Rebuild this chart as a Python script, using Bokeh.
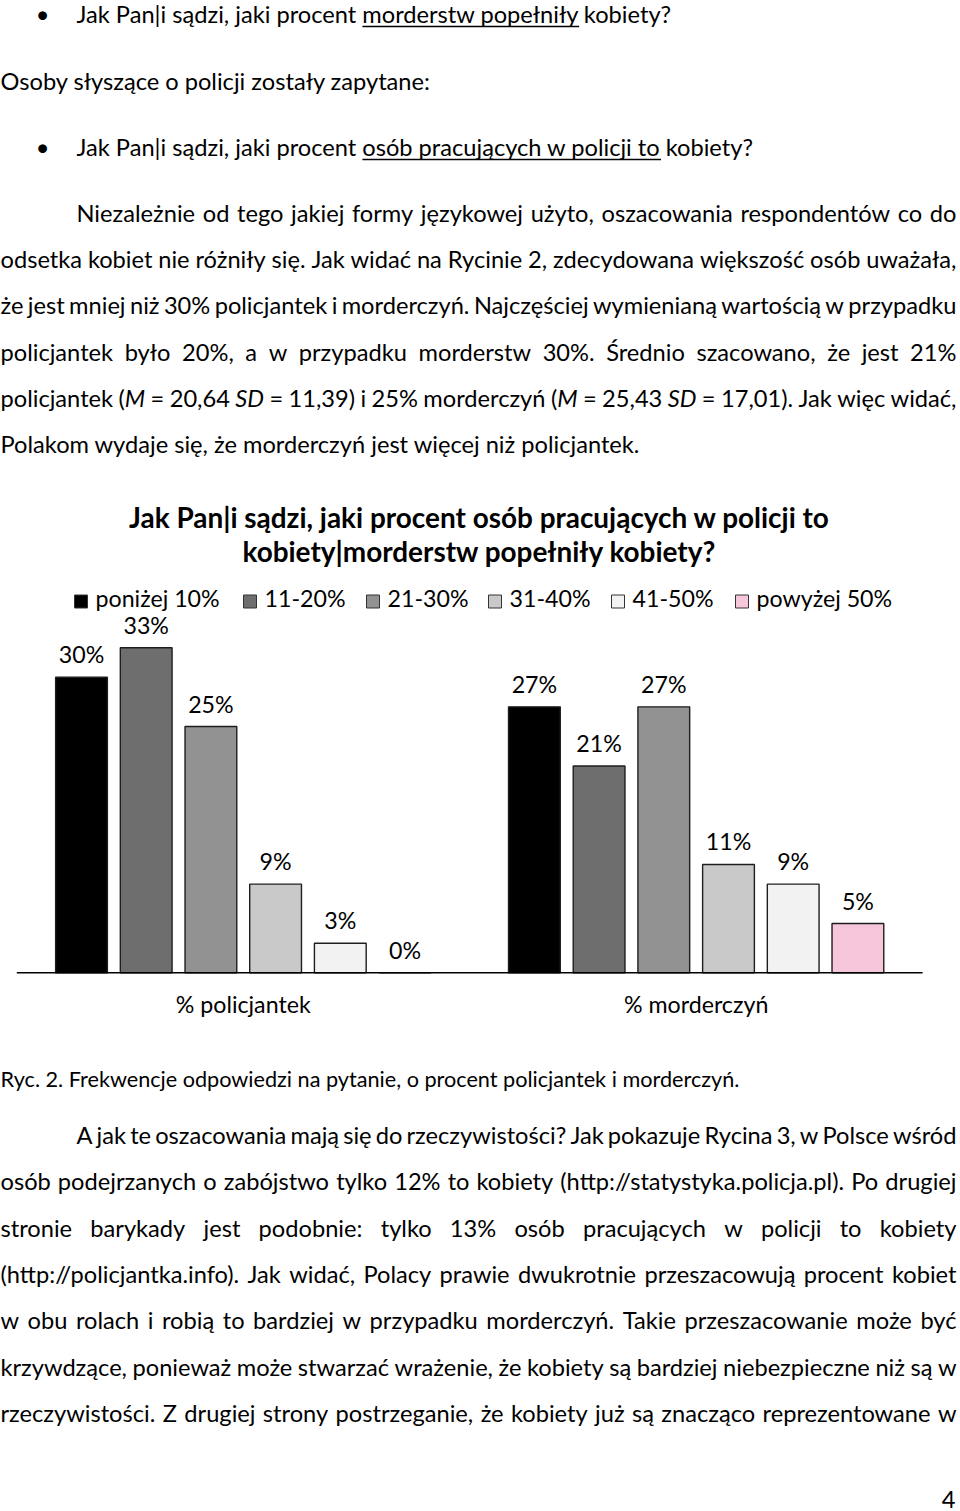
import glob
import os
import subprocess

from bokeh.core.properties import value
from bokeh.embed import file_html
from bokeh.models import ColumnDataSource, LabelSet, Range1d
from bokeh.plotting import figure
from bokeh.resources import INLINE

# ---------------- data ----------------
groups = ["% policjantek", "% morderczyń"]
bins = ["poniżej 10%", "11-20%", "21-30%", "31-40%", "41-50%", "powyżej 50%"]
policjantek = [30, 33, 25, 9, 3, 0]
morderczyn = [27, 21, 27, 11, 9, 5]
bin_colors = ["#000000", "#6e6e6e", "#929292", "#c9c9c9", "#f2f2f2", "#f6c6da"]

title_lines = ["Jak Pan|i sądzi, jaki procent osób pracujących w policji to",
               "kobiety|morderstw popełniły kobiety?"]

top_lines = [
    ("bullet", 22.0, "Jak Pan|i sądzi, jaki procent _morderstw popełniły_ kobiety?"),
    ("left", 89.3, "Osoby słyszące o policji zostały zapytane:"),
    ("bullet", 155.0, "Jak Pan|i sądzi, jaki procent _osób pracujących w policji to_ kobiety?"),
]
para1 = [
    "Niezależnie od tego jakiej formy językowej użyto, oszacowania respondentów co do",
    "odsetka kobiet nie różniły się. Jak widać na Rycinie 2, zdecydowana większość osób uważała,",
    "że jest mniej niż 30% policjantek i morderczyń. Najczęściej wymienianą wartością w przypadku",
    "policjantek było 20%, a w przypadku morderstw 30%. Średnio szacowano, że jest 21%",
    "policjantek (*M* = 20,64 *SD* = 11,39) i 25% morderczyń (*M* = 25,43 *SD* = 17,01). Jak więc widać,",
    "Polakom wydaje się, że morderczyń jest więcej niż policjantek.",
]
caption = "Ryc. 2. Frekwencje odpowiedzi na pytanie, o procent policjantek i morderczyń."
para2 = [
    "A jak te oszacowania mają się do rzeczywistości? Jak pokazuje Rycina 3, w Polsce wśród",
    "osób podejrzanych o zabójstwo tylko 12% to kobiety (http://statystyka.policja.pl). Po drugiej",
    "stronie barykady jest podobnie: tylko 13% osób pracujących w policji to kobiety",
    "(http://policjantka.info). Jak widać, Polacy prawie dwukrotnie przeszacowują procent kobiet",
    "w obu rolach i robią to bardziej w przypadku morderczyń. Takie przeszacowanie może być",
    "krzywdzące, ponieważ może stwarzać wrażenie, że kobiety są bardziej niebezpieczne niż są w",
    "rzeczywistości. Z drugiej strony postrzeganie, że kobiety już są znacząco reprezentowane w",
]
page_number = "4"

# ---------------- page geometry (page pixels) ----------------
W, H = 960, 1511
FONT = "Lato"

# ---------------- font measuring ----------------
try:
    from PIL import ImageFont
except Exception:  # pragma: no cover
    ImageFont = None


def find_font(fname, fcname):
    roots = ["/usr/share/fonts", "/usr/local/share/fonts",
             os.path.expanduser("~/.fonts"), os.path.expanduser("~/.local/share/fonts")]
    for r in roots:
        hits = glob.glob(os.path.join(r, "**", fname), recursive=True)
        if hits:
            return sorted(hits)[0]
    try:
        out = subprocess.run(["fc-match", "-f", "%{file}", fcname],
                             capture_output=True, text=True, timeout=5).stdout.strip()
        if out and os.path.exists(out) and "lato" in out.lower():
            return out
    except Exception:
        pass
    return None


FONT_FILES = {"normal": find_font("Lato-Regular.ttf", "Lato:style=Regular"),
              "italic": find_font("Lato-Italic.ttf", "Lato:style=Italic"),
              "bold": find_font("Lato-Bold.ttf", "Lato:style=Bold")}
_fcache = {}
MEASURE_OK = ImageFont is not None and FONT_FILES["normal"] is not None


def measure(text, style, size):
    path = FONT_FILES.get(style) or FONT_FILES.get("normal")
    if ImageFont is not None and path:
        if path not in _fcache:
            _fcache[path] = ImageFont.truetype(path, 200)
        return _fcache[path].getlength(text) * size / 200.0
    return len(text) * size * (0.53 if style == "bold" else 0.49)


def fit_size(samples, style):
    r = sorted(w / measure(t, style, 1.0) for t, w in samples)
    return r[len(r) // 2]


body_size = fit_size([
    ("Osoby słyszące o policji zostały zapytane:", 422.5),
    ("Polakom wydaje się, że morderczyń jest więcej niż policjantek.", 637),
    ("Jak Pan|i sądzi, jaki procent morderstw popełniły kobiety?", 671 - 76),
    ("Jak Pan|i sądzi, jaki procent osób pracujących w policji to kobiety?", 754.5 - 76),
], "normal")
caption_size = fit_size([(caption, 739)], "normal")
chart_size = fit_size([
    ("% policjantek", 135), ("% morderczyń", 145),
    ("poniżej 10%", 121), ("powyżej 50%", 138), ("31-40%", 76),
], "normal")
title_size = fit_size([(title_lines[0], 698), (title_lines[1], 473)], "bold")

# ---------------- text layout ----------------
labels = {}      # (style, size, align) -> dict(x, y, text)
underlines = {"x0": [], "x1": [], "y": []}


def add_label(x, y, text, style, size, align="left"):
    key = (style, round(size, 2), align)
    d = labels.setdefault(key, {"x": [], "y": [], "text": []})
    d["x"].append(x)
    d["y"].append(y)
    d["text"].append(text)


def close_ul(x0, x1, base):
    underlines["x0"].append(x0)
    underlines["x1"].append(x1)
    underlines["y"].append(base + 4)


def layout_line(markup, x0, x1, base, size, justify):
    italic = False
    under = False
    words = []
    space_under = []
    for w in markup.split(" "):
        segs, cur = [], ""
        for ch in w:
            if ch in "*_":
                if cur:
                    segs.append((cur, italic, under))
                    cur = ""
                if ch == "*":
                    italic = not italic
                else:
                    under = not under
            else:
                cur += ch
        if cur:
            segs.append((cur, italic, under))
        words.append(segs)
        space_under.append(under)
    widths = [sum(measure(t, "italic" if it else "normal", size) for t, it, _ in segs) for segs in words]
    space = measure(" ", "normal", size)
    if justify and len(words) > 1:
        gap = (x1 - x0 - sum(widths)) / (len(words) - 1)
    else:
        gap = space
    x = x0
    placed = []
    ul_start = None
    for i, segs in enumerate(words):
        for t, it, un in segs:
            wseg = measure(t, "italic" if it else "normal", size)
            placed.append([x, t, "italic" if it else "normal", i])
            if un and ul_start is None:
                ul_start = x
            if not un and ul_start is not None:
                close_ul(ul_start, x, base)
                ul_start = None
            x += wseg
        if i < len(words) - 1:
            if ul_start is not None and not space_under[i]:
                close_ul(ul_start, x, base)
                ul_start = None
            x += gap
    if ul_start is not None:
        close_ul(ul_start, x, base)
    if justify:
        for px, t, st, _ in placed:
            add_label(px, base, t, st, size)
    else:
        runs = []
        for px, t, st, wi in placed:
            if runs and runs[-1][2] == st:
                sep = " " if wi != runs[-1][3] else ""
                runs[-1][1] += sep + t
                runs[-1][3] = wi
            else:
                runs.append([px, t, st, wi])
        for px, t, st, _ in runs:
            add_label(px, base, t, st, size)


LEFT, INDENT, RIGHT = 0.0, 76.0, 956.0

for kind, base, text in top_lines:
    if kind == "bullet":
        add_label(42, base, "•", "normal", body_size, "center")
        layout_line(text, INDENT, RIGHT, base, body_size, False)
    else:
        layout_line(text, LEFT, RIGHT, base, body_size, False)

for i, line in enumerate(para1):
    base = 221.7 + 46.1 * i
    layout_line(line, INDENT if i == 0 else LEFT, RIGHT, base, body_size, i < len(para1) - 1)

layout_line(caption, LEFT, RIGHT, 1086.7, caption_size, False)

for i, line in enumerate(para2):
    base = 1143.3 + 46.4 * i
    layout_line(line, INDENT if i == 0 else LEFT, RIGHT, base, body_size, True)

add_label(955, 1507, page_number, "normal", body_size, "right")

# chart title
add_label(479, 527.3, title_lines[0], "bold", title_size, "center")
add_label(479, 561.0, title_lines[1], "bold", title_size, "center")

# legend labels
legend_left_ref = [74, 243, 366, 488, 611, 735]
for xl, b in zip(legend_left_ref, bins):
    add_label(xl + 21, 606.7, b, "normal", chart_size)

if not MEASURE_OK:
    add_label(10, 1490, "FONTFALLBACK", "normal", 10)

# ---------------- figure ----------------
p = figure(width=W, height=H, x_range=Range1d(0, W), y_range=Range1d(H, 0), title=None,
           output_backend="svg", toolbar_location=None,
           x_axis_location=None, y_axis_location=None,
           min_border_left=0, min_border_right=0, min_border_top=0, min_border_bottom=0)
p.grid.visible = False
p.outline_line_color = None
p.background_fill_color = "white"
p.border_fill_color = "white"

# bar scales: one slot per category, one empty slot between the two groups
SLOT0, SLOT_W = 81.0, 64.7
AXIS_Y = 972.3
PPP = 9.85            # pixels per percentage point
LABEL_GAP = 14.0      # value label baseline above bar top (px)
GROUP_GAP = 40.4      # group label baseline below axis (px)
slot_start = -SLOT0 / SLOT_W
p.extra_x_ranges = {"slot": Range1d(start=slot_start, end=slot_start + W / SLOT_W)}
p.extra_y_ranges = {"pct": Range1d(start=-(H - AXIS_Y) / PPP, end=AXIS_Y / PPP)}

stride = len(bins) + 1
xs, tops, cols, labs = [], [], [], []
for gi, series in enumerate([policjantek, morderczyn]):
    for bi, v in enumerate(series):
        xs.append(gi * stride + bi)
        tops.append(v)
        cols.append(bin_colors[bi])
        labs.append(f"{v}%")
bars = ColumnDataSource(dict(x=xs, top=tops, color=cols, label=labs,
                             label_y=[t + LABEL_GAP / PPP for t in tops]))

p.vbar(x="x", top="top", width=0.8, source=bars, fill_color="color",
       line_color="#1e1e1e", line_width=1.4, x_range_name="slot", y_range_name="pct")
p.add_layout(LabelSet(x="x", y="label_y", text="label", source=bars,
                      x_range_name="slot", y_range_name="pct",
                      text_align="center", text_baseline="alphabetic",
                      text_font=value(FONT), text_font_size=value(f"{chart_size:.2f}px"),
                      text_color="#000000"))

group_src = ColumnDataSource(dict(
    x=[gi * stride + (len(bins) - 1) / 2 for gi in range(len(groups))],
    y=[-GROUP_GAP / PPP] * len(groups), text=groups))
p.add_layout(LabelSet(x="x", y="y", text="text", source=group_src,
                      x_range_name="slot", y_range_name="pct",
                      text_align="center", text_baseline="alphabetic",
                      text_font=value(FONT), text_font_size=value(f"{chart_size:.2f}px"),
                      text_color="#000000"))

# category axis line (one slot beyond the outer bars)
p.segment(x0=[min(xs) - 1], x1=[max(xs) + 1], y0=[0], y1=[0], line_color="#000000",
          line_width=1.5, x_range_name="slot", y_range_name="pct")

# legend swatches
p.rect(x=[xl + 6.5 for xl in legend_left_ref], y=[601.0] * len(bins),
       width=13, height=13, fill_color=bin_colors, line_color="#333333", line_width=1)

# underlines
if underlines["x0"]:
    p.segment(x0="x0", x1="x1", y0="y", y1="y", source=ColumnDataSource(underlines),
              line_color="#000000", line_width=1.3)

for (style, size, align), d in labels.items():
    p.add_layout(LabelSet(x="x", y="y", text="text", source=ColumnDataSource(d),
                          text_align=align, text_baseline="alphabetic",
                          text_font=value(FONT), text_font_size=value(f"{size:.2f}px"),
                          text_font_style=value(style), text_color="#000000"))

open("out.html", "w").write(file_html(p, INLINE))
